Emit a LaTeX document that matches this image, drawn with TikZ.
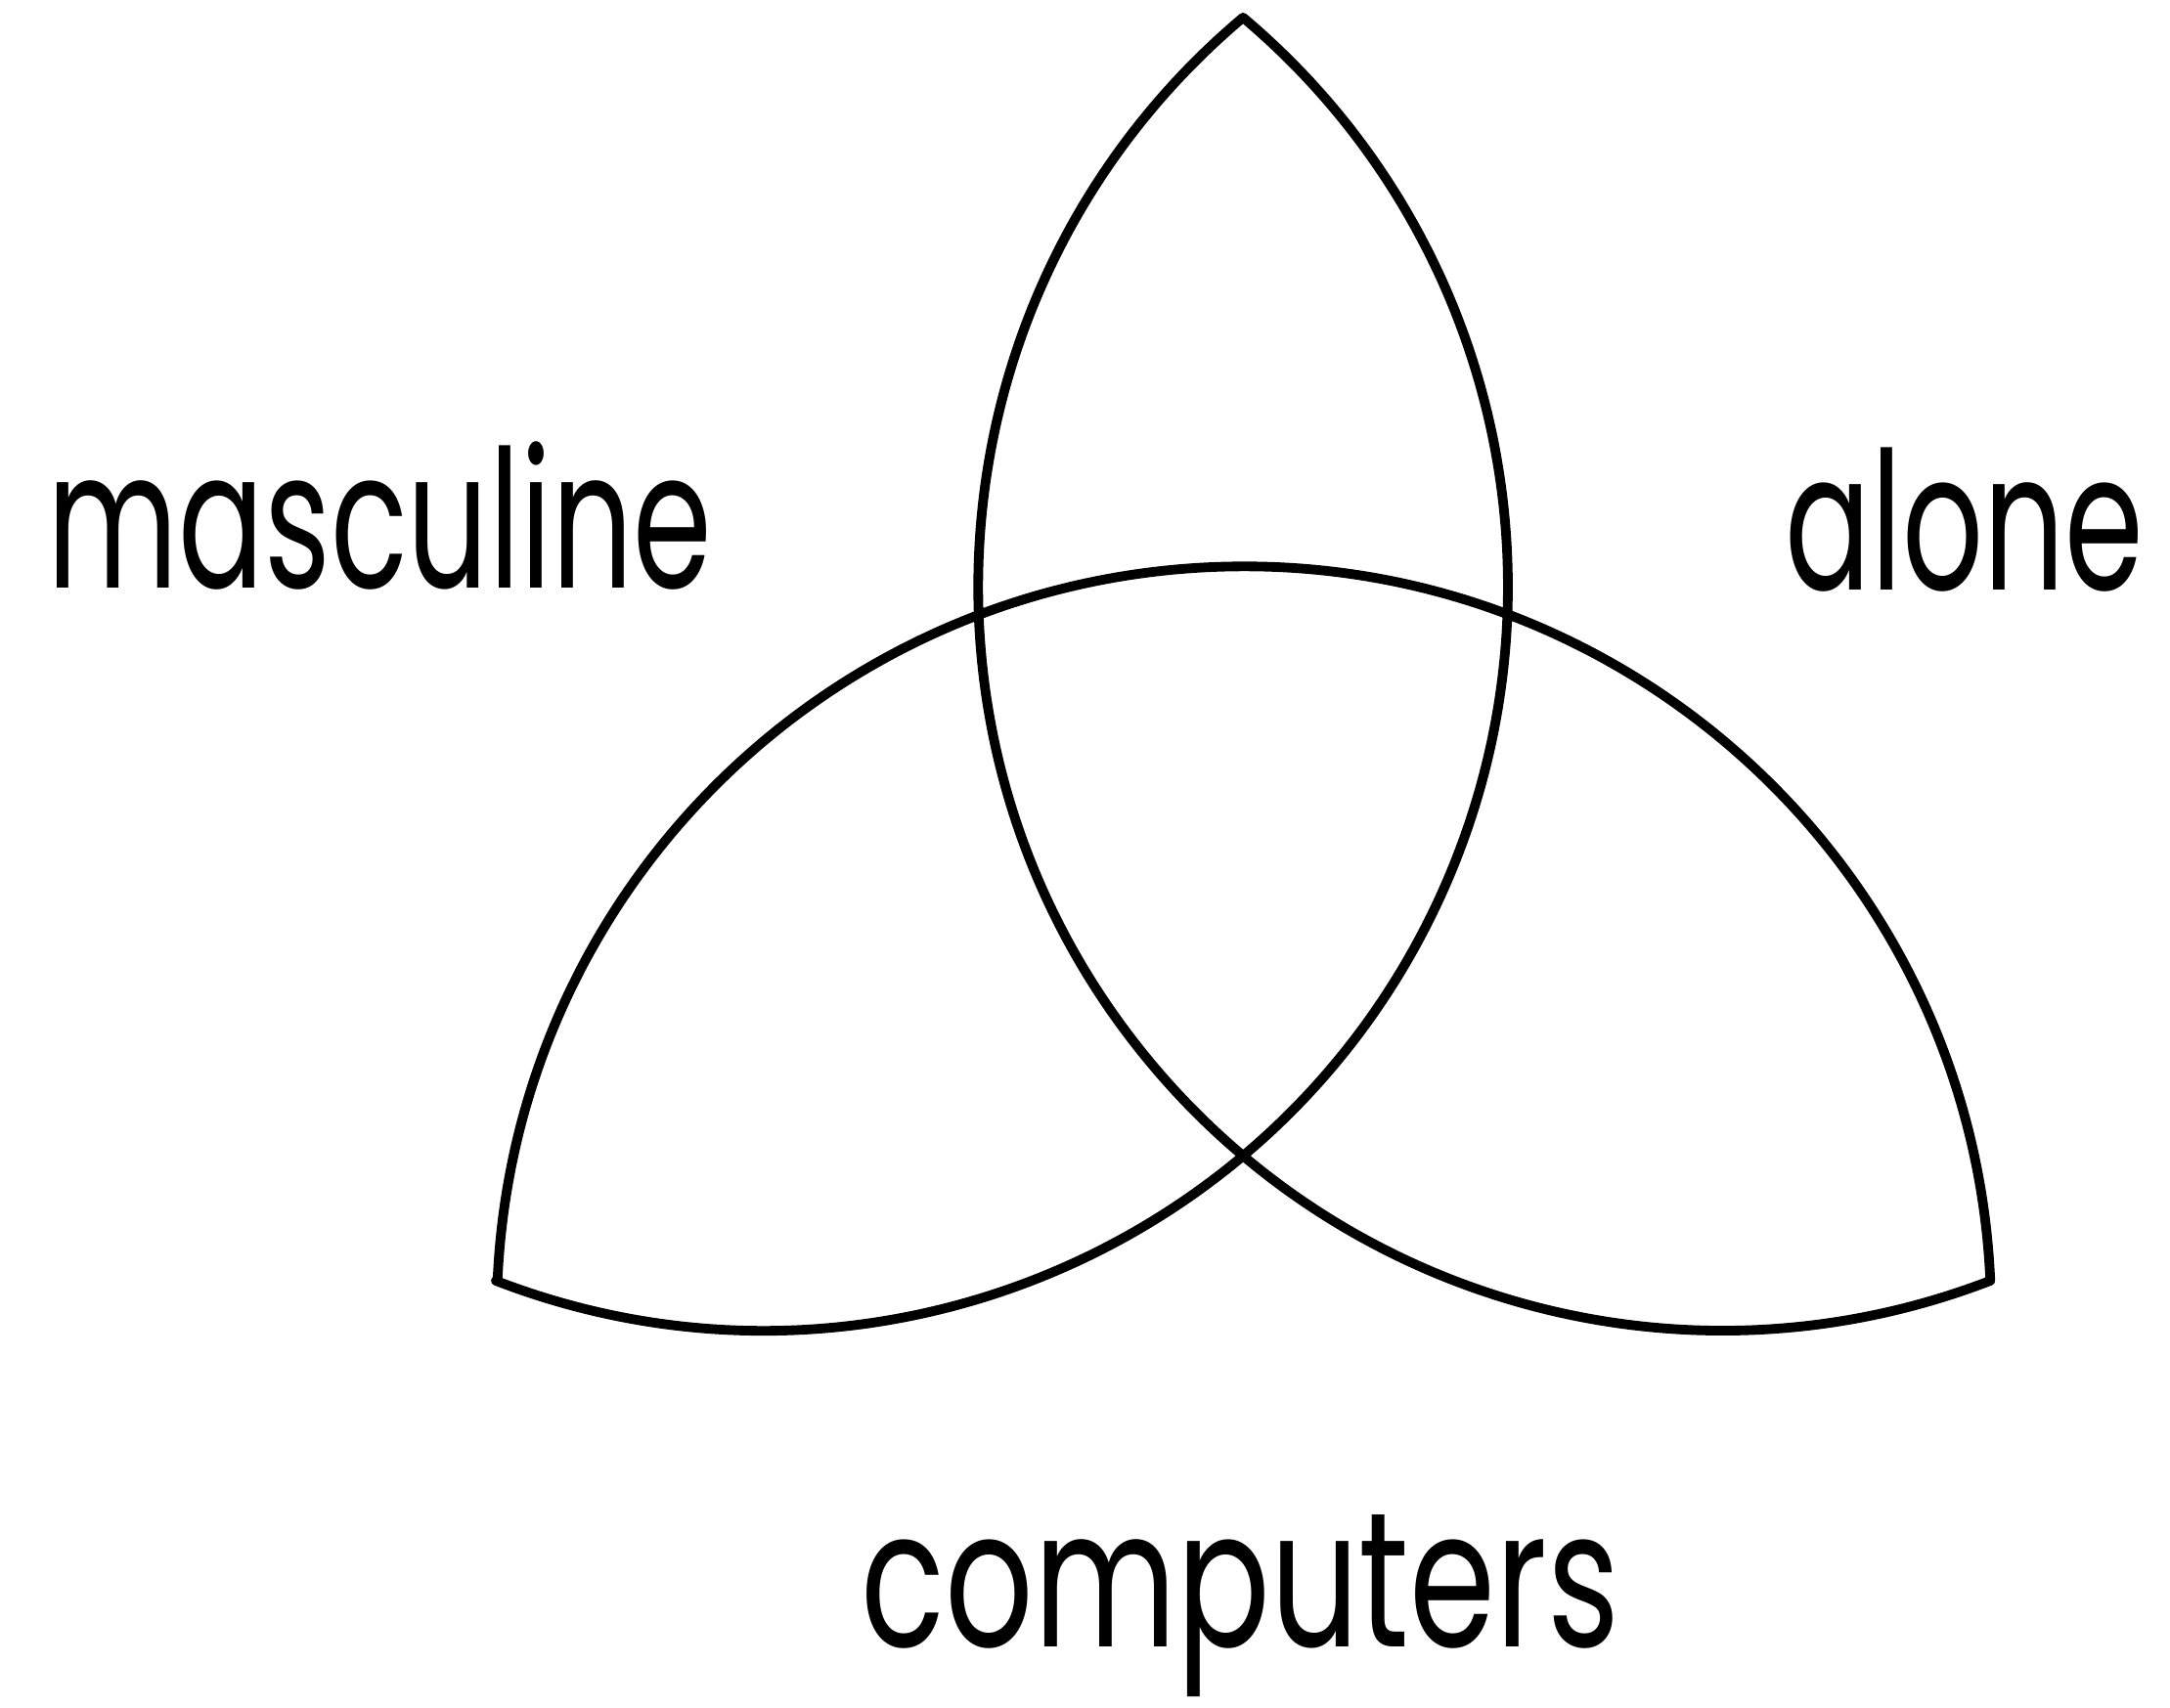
\documentclass[tikz,border=0pt]{standalone}
\usepackage{fontspec}
\newfontfamily\handfont[FakeStretch=0.66]{Poppins}
\usepackage{tikz}
\usetikzlibrary{positioning}

\begin{document}
\begin{tikzpicture}[
  lbl/.style={font=\handfont\fontsize{56pt}{60pt}\selectfont, inner sep=0pt},
  rim/.style={line width=2.8pt, line join=round, draw=black},
]
  \useasboundingbox (0,0) rectangle (22.19,17.47);

  % Corners of the three lobes
  \coordinate (top) at (12.71,17.29);
  \coordinate (bl) at (5.07,4.37);
  \coordinate (br) at (20.33,4.37);

  % Arcs
  \draw[rim] (bl) arc[start angle=-111.1, end angle=49.9, radius=7.61]
    arc[start angle=130.1, end angle=291.1, radius=7.61]
    arc[start angle=2.5, end angle=177.5, radius=7.64] -- cycle;

  % Labels
  \node[lbl, anchor=base west] (masc) at (0.48,11.45) {masculine};
  \node[lbl, anchor=base east] (alone) at (21.93,11.43) {alone};
  \node[lbl, anchor=base west,
        font=\handfont\addfontfeatures{FakeStretch=0.72}\fontsize{56pt}{60pt}\selectfont]
        (comp) at (8.80,0.62) {computers};

\end{tikzpicture}
\end{document}
